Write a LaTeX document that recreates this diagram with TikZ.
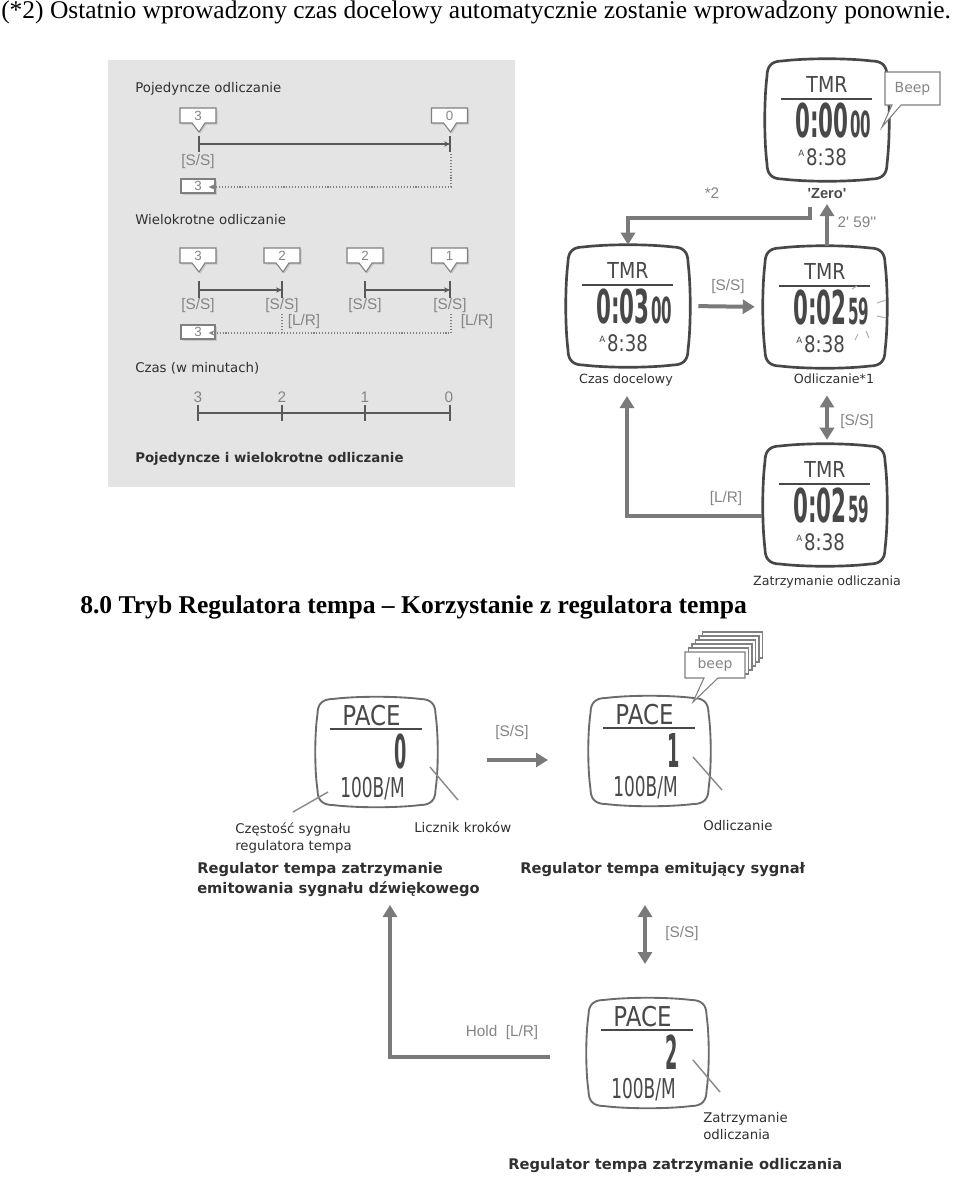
\documentclass[tikz,border=0pt]{standalone}
\usepackage{fontspec}
\usepackage{graphicx}
\setmainfont{Liberation Serif}
\newfontfamily\dvs{DejaVu Sans}
\newfontfamily\ars{Liberation Sans}
\usetikzlibrary{arrows.meta,calc}
\definecolor{boxgray}{HTML}{E4E4E4}
\definecolor{txt}{HTML}{303030}
\definecolor{lgt}{HTML}{858585}
\definecolor{arrg}{HTML}{7A7A7A}
\definecolor{lcdc}{HTML}{484848}
\tikzset{
 lbl/.style={font=\dvs\fontsize{10}{12.75}\selectfont, text=txt, inner sep=0pt},
 lbls/.style={font=\dvs\fontsize{9.5}{12}\selectfont, text=txt, inner sep=0pt},
 blbl/.style={font=\dvs\bfseries\fontsize{11}{15}\selectfont, text=txt, inner sep=0pt},
 glbl/.style={font=\ars\fontsize{11.5}{13}\selectfont, text=lgt, inner sep=0pt},
 tline/.style={draw=black!65, line width=0.8pt},
 dline/.style={draw=black!50, line width=1pt, dash pattern=on 0.8pt off 1.4pt},
 smarr/.style={-{Stealth[length=4.5pt,width=4pt]}},
 arr/.style={draw=arrg, line width=3pt, -{Triangle[length=9pt,width=10.5pt]}},
 darr/.style={draw=arrg, line width=3pt, {Triangle[length=9pt,width=10.5pt]}-{Triangle[length=9pt,width=10.5pt]}},
 watchtmr/.style={draw=black!72, line width=2pt},
 watchpace/.style={draw=black!58, line width=1.4pt},
 lcd/.style={text=lcdc, inner sep=0pt},
 lcdline/.style={draw=lcdc, line width=1.4pt},
 bubt/.style={font=\ars\fontsize{10}{12}\selectfont, text=lgt, inner sep=0pt},
 bubline/.style={fill=white, draw=black!50, line width=0.8pt},
 ptr/.style={draw=black!45, line width=1.1pt},
 flash/.style={draw=black!30, line width=0.8pt},
}
\newcommand\cushion[3]{%
 \draw[#3] (-#1+15,-#2) .. controls (-#1/3,-#2-3) and (#1/3,-#2-3) .. (#1-15,-#2)
  .. controls (#1-5,-#2) and (#1,-#2+5) .. (#1,-#2+15)
  .. controls (#1+3,-#2/3) and (#1+3,#2/3) .. (#1,#2-15)
  .. controls (#1,#2-5) and (#1-5,#2) .. (#1-15,#2)
  .. controls (#1/3,#2+3) and (-#1/3,#2+3) .. (-#1+15,#2)
  .. controls (-#1+5,#2) and (-#1,#2-5) .. (-#1,#2-15)
  .. controls (-#1-3,#2/3) and (-#1-3,-#2/3) .. (-#1,-#2+15)
  .. controls (-#1,-#2+5) and (-#1+5,-#2) .. cycle;}
\newcommand\tmrwatch[5]{%
 \begin{scope}[shift={(#2,#3)}]
  \cushion{60}{59}{watchtmr}
  \node[minimum width=93pt, minimum height=91.5pt, inner sep=0pt] (#1) at (0,0) {};
  \node[lcd, anchor=base, font=\dvs\fontsize{16.5}{18}\selectfont] (#1-t) at (0,-28) {\scalebox{0.86}[1]{TMR}};
  \draw[lcdline] (-46,-21) -- (45,-21);
  \node[lcd, anchor=base east, font=\dvs\bfseries\fontsize{35}{36}\selectfont] (#1-b) at (22,17) {\scalebox{0.46}[1]{#4}};
  \node[lcd, anchor=base west, font=\dvs\bfseries\fontsize{27}{28}\selectfont] (#1-s) at (23,17) {\scalebox{0.42}[1]{#5}};
  \node[lcd, anchor=base west, font=\dvs\fontsize{17}{18}\selectfont] (#1-c) at (-29,45) {\raisebox{6.5pt}{\fontsize{6.5}{7}\selectfont A}\hspace{1.5pt}\scalebox{0.8}[1]{8:38}};
 \end{scope}}
\newcommand\pacewatch[4]{%
 \begin{scope}[shift={(#2,#3)}]
  \cushion{59}{53}{watchpace}
  \node[minimum width=90pt, minimum height=82pt, inner sep=0pt] (#1) at (0,0) {};
  \node[lcd, anchor=base, font=\dvs\fontsize{20.5}{22}\selectfont] (#1-t) at (-5,-27) {\scalebox{0.84}[1]{PACE}};
  \draw[lcdline] (-47,-23) -- (45,-23);
  \node[lcd, anchor=base east, font=\dvs\bfseries\fontsize{35}{36}\selectfont] (#1-d) at (31,16) {\scalebox{0.38}[1]{#4}};
  \node[lcd, anchor=base, font=\dvs\fontsize{20.5}{22}\selectfont] (#1-r) at (-4,45) {\scalebox{0.62}[1]{100B/M}};
 \end{scope}}
\newcommand\bubble[4]{%
 \begin{scope}[shift={(#2,#3)}]
  \fill[black!22] (-16.5,-6) -- (19.5,-6) -- (19.5,9) -- (8.5,9) -- (2.5,18) -- (-4.5,9) -- (-16.5,9) -- cycle;
  \draw[bubline] (-18,-7.5) -- (18,-7.5) -- (18,7.5) -- (7,7.5) -- (1,16.5) -- (-6,7.5) -- (-18,7.5) -- cycle;
  \node[bubt] (#1) at (0,0) {#4};
 \end{scope}}
\newcommand\resetbox[4]{%
 \begin{scope}[shift={(#2,#3)}]
  \fill[black!22] (-15.5,-5.5) rectangle (18.5,8.5);
  \draw[bubline] (-17,-7) rectangle (17,7);
  \node[bubt] (#1) at (0,0) {#4};
 \end{scope}}
\begin{document}
\begin{tikzpicture}[x=0.75pt,y=-0.75pt]
\useasboundingbox (0,0) rectangle (960,1178);
\fill[white] (0,0) rectangle (960,1178);

% headers
\node[anchor=base west, inner sep=0pt, font=\fontsize{19.1}{22}\selectfont] (h1) at (1,18) {(*2) Ostatnio wprowadzony czas docelowy automatycznie zostanie wprowadzony ponownie.};
\node[anchor=base west, inner sep=0pt, font=\bfseries\fontsize{19.2}{22}\selectfont] (h2) at (80,613) {8.0 Tryb Regulatora tempa – Korzystanie z regulatora tempa};

% ---------------- gray box
\fill[boxgray] (108,60) rectangle (515,487);
\node[lbl, anchor=base west] (g1) at (135,92) {Pojedyncze odliczanie};
\bubble{b3}{198}{115.5}{3}
\bubble{b0}{449.5}{115.5}{0}
\draw[tline] (199,136) -- (199,152);
\draw[tline] (450,136) -- (450,152);
\coordinate (s0) at (199,144); \coordinate (s1) at (450,144);
\draw[tline, smarr] (s0) -- (s1);
\node[glbl] (ss0) at (198,162) {[S/S]};
\resetbox{r1}{198}{186}{3}
\coordinate (d0) at (451,154); \coordinate (d1) at (451,187);
\draw[dline, smarr, shorten >=5pt] (d0) -- (d1) -- (d1 -| r1.east);

\node[lbl, anchor=base west] (g2) at (135,224) {Wielokrotne odliczanie};
\bubble{m1}{198}{255.5}{3}
\bubble{m2}{282}{255.5}{2}
\bubble{m3}{365}{255.5}{2}
\bubble{m4}{449.5}{255.5}{1}
\foreach \x in {199,282,365,450} {\draw[tline] (\x,281) -- (\x,298);}
\coordinate (p1) at (199,290); \coordinate (p2) at (282,290);
\coordinate (p3) at (365,290); \coordinate (p4) at (450,290);
\draw[tline, smarr] (p1) -- (p2);
\draw[tline, smarr] (p3) -- (p4);
\node[glbl] (ms1) at (198,306) {[S/S]};
\node[glbl] (ms2) at (282,306) {[S/S]};
\node[glbl] (ms3) at (365,306) {[S/S]};
\node[glbl] (ms4) at (450,306) {[S/S]};
\node[glbl] (lr1) at (304,322) {[L/R]};
\node[glbl] (lr2) at (477,322) {[L/R]};
\resetbox{r2}{198}{332}{3}
\coordinate (e0) at (282,314); \coordinate (e1) at (282,333);
\coordinate (f0) at (451,314); \coordinate (f1) at (451,333);
\draw[dline] (e0) -- (e1);
\draw[dline, smarr, shorten >=5pt] (f0) -- (f1) -- (f1 -| r2.east);

\node[lbl, anchor=base west] (g3) at (135,372) {Czas (w minutach)};
\foreach \x/\n in {198/3,282/2,365/1,449/0} {\node[glbl] at (\x,397) {\n};}
\draw[tline] (198,413) -- (450,413);
\foreach \x in {198,282,365,450} {\draw[tline] (\x,405) -- (\x,421);}
\node[lbl, anchor=base west, font=\dvs\bfseries\fontsize{10}{12}\selectfont] (g4) at (135,462) {Pojedyncze i wielokrotne odliczanie};

% ---------------- TMR diagram
\tmrwatch{wt}{827}{120}{0:00}{00}
\tmrwatch{wl}{628}{306}{0:03}{00}
\tmrwatch{wr}{825}{307}{0:02}{59}
\tmrwatch{wb}{825}{505}{0:02}{59}
% beep
\draw[bubline] (885,72) -- (940,72) -- (940,105) -- (901,105) -- (882,127) -- (892,105) -- (885,105) -- cycle;
\node[font=\dvs\fontsize{10.5}{12}\selectfont, text=lgt, inner sep=0pt] (beep1) at (912.5,89) {Beep};
% flash marks
\draw[flash] (852,289) -- (857,286);
\draw[flash] (877,303) -- (886,300);
\draw[flash] (877,316) -- (886,318);
\draw[flash] (866,331) -- (869,338);
\draw[flash] (858,334) -- (855,340);

\node[font=\ars\bfseries\fontsize{11}{13}\selectfont, text=black!70, inner sep=0pt, anchor=base] (zero) at (827,198) {'Zero'};
\node[glbl, anchor=base] (st2) at (712,198) {*2};
\node[glbl, anchor=base] (t259) at (857,227) {2' 59''};
\coordinate (zs) at (810,207); \coordinate (zc) at (810,218);
\draw[arr] (zs) -- (zc) -| (wl.north);
\coordinate (zt) at (827,204);
\draw[arr] (wr.north -| zt) -- (zt);
\draw[arr, shorten <=6pt, shorten >=6pt] (wl.east) -- (wr.west);
\node[glbl, anchor=base] (ss1) at (728,290) {[S/S]};
\node[lbls, anchor=base] (cd) at (626,383) {Czas docelowy};
\node[lbls, anchor=base] (od) at (834,383) {Odliczanie*1};
\draw[darr, shorten <=9pt, shorten >=3pt] (od.south -| 827,0) -- (wb.north -| 827,0);
\node[glbl, anchor=base] (ss2) at (857,425) {[S/S]};
\coordinate (lrs) at (762,516); \coordinate (cdt) at (627,396);
\draw[arr] (lrs) -| (cdt);
\node[glbl, anchor=base] (lr3) at (726,502) {[L/R]};
\node[lbls, anchor=base] (zo) at (827,585) {Zatrzymanie odliczania};

% ---------------- PACE diagram
\pacewatch{p0}{376.5}{752}{0}
\pacewatch{pb}{649.5}{751}{1}
\pacewatch{ps}{647.5}{1053}{2}
% beep stack
\foreach \k in {5,4,3,2,1} {\draw[bubline] ($(685,652)+(3.5*\k,-4*\k)$) rectangle ++(60,26);}
\draw[bubline] (685,652) -- (745,652) -- (745,678) -- (718,678) -- (693,702) -- (704,678) -- (685,678) -- cycle;
\node[font=\dvs\fontsize{10.5}{12}\selectfont, text=lgt, inner sep=0pt] (beep2) at (715,665) {beep};
% pointers
\draw[ptr] (328,792) -- (293,812);
\draw[ptr] (430,767) -- (458,800);
\draw[ptr] (693,757) -- (722,790);
\draw[ptr] (693,1060) -- (720,1092);
\node[lbl, anchor=base west, align=left] (c1) at (235,850) {Częstość sygnału\\regulatora tempa};
\node[lbl, anchor=base west] (c2) at (414,832) {Licznik kroków};
\node[lbl, anchor=base west] (c3) at (703,830) {Odliczanie};
\node[blbl, anchor=base west, align=left] (c4) at (197,893) {Regulator tempa zatrzymanie\\emitowania sygnału dźwiękowego};
\node[blbl, anchor=base west] (c5) at (520,873) {Regulator tempa emitujący sygnał};
\coordinate (a1) at (487,760); \coordinate (a2) at (548,760);
\draw[arr] (a1) -- (a2);
\node[glbl, anchor=base] (ss3) at (512,736) {[S/S]};
\coordinate (v1) at (645,905); \coordinate (v2) at (645,964);
\draw[darr] (v1) -- (v2);
\node[glbl, anchor=base] (ss4) at (682,937) {[S/S]};
\coordinate (h0) at (550,1057); \coordinate (hu) at (390,905);
\draw[arr] (h0) -| (hu);
\node[glbl, anchor=base] (hold) at (502,1036) {Hold\ \ [L/R]};
\node[lbl, anchor=base west, align=left] (c6) at (703,1139) {Zatrzymanie\\odliczania};
\node[blbl, anchor=base west] (c7) at (508,1169) {Regulator tempa zatrzymanie odliczania};
\end{tikzpicture}
\end{document}
